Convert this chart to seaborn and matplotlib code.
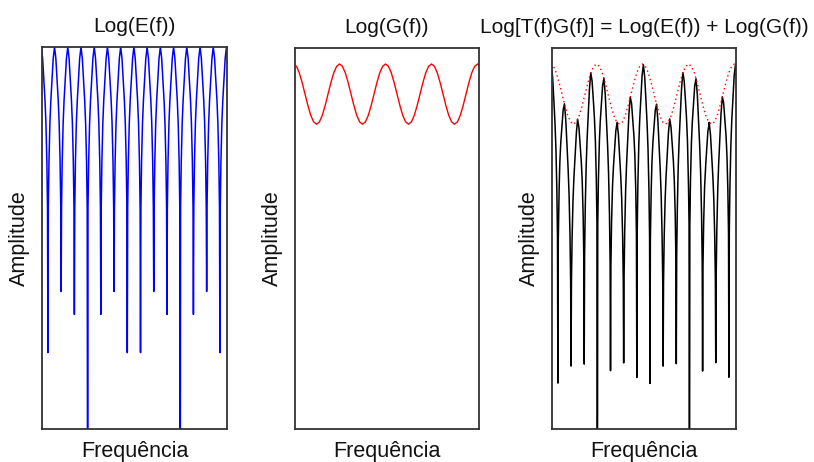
import numpy as np
import pandas as pd
import matplotlib
matplotlib.use("Agg")
import matplotlib.pyplot as plt
import seaborn as sns

# ---------------- data ----------------
# Log(E(f)): positions (normalised frequency) and levels of the 14 dips
dip_freq = [0.032, 0.1035, 0.175, 0.2465, 0.318, 0.3895, 0.461,
            0.5325, 0.604, 0.6755, 0.747, 0.8185, 0.890, 0.9615]
dip_level = [0.20, 0.36, 0.30, -0.40, 0.30, 0.36, 0.20,
             0.20, 0.36, 0.30, -0.40, 0.30, 0.36, 0.20]
lobe_width = 0.0715
# shape of one half-lobe: distance from dip (lobe units) -> level
lobe_offset = [0.03, 0.08, 0.15, 0.22, 0.30, 0.40, 0.50]
lobe_level = [0.58, 0.70, 0.80, 0.86, 0.91, 0.97, 1.00]

# Log(G(f)): peak positions and one period profile
g_peak_freq = [-0.008, 0.242, 0.492, 0.742, 0.992]
g_period = 0.25
g_cycle_offset = [0.0, 0.0625, 0.125, 0.1875, 0.25, 0.3125, 0.375, 0.4375,
                  0.5, 0.5625, 0.625, 0.6875, 0.75, 0.8125, 0.875, 0.9375]
g_cycle_level = [0.958, 0.952, 0.935, 0.909, 0.879, 0.849, 0.823, 0.806,
                 0.800, 0.806, 0.823, 0.849, 0.879, 0.909, 0.935, 0.952]

titles = ["Log(E(f))", "Log(G(f))", "Log[T(f)G(f)] = Log(E(f)) + Log(G(f))"]
xlabel = "Frequência"
ylabel = "Amplitude"

# ---------------- assemble series ----------------
e_f, e_v = [], []
# descending half before first dip
for off, lev in zip(lobe_offset[::-1], lobe_level[::-1]):
    e_f.append(dip_freq[0] - off * lobe_width); e_v.append(lev)
for i, (p, lv) in enumerate(zip(dip_freq, dip_level)):
    e_f.append(p); e_v.append(lv)
    nxt = dip_freq[i + 1] if i + 1 < len(dip_freq) else p + lobe_width
    w = nxt - p
    for off, lev in zip(lobe_offset, lobe_level):
        e_f.append(p + off * w); e_v.append(lev)
    if i + 1 < len(dip_freq):
        for off, lev in zip(lobe_offset[::-1][1:], lobe_level[::-1][1:]):
            e_f.append(nxt - off * w); e_v.append(lev)
    else:
        for off, lev in zip(lobe_offset[::-1][1:3], lobe_level[::-1][1:3]):
            e_f.append(nxt - off * w); e_v.append(lev)
e_f = np.array(e_f); e_v = np.array(e_v)

g_f, g_v = [], []
for pk in g_peak_freq:
    for off, lev in zip(g_cycle_offset, g_cycle_level):
        g_f.append(pk + off * g_period); g_v.append(lev)
g_f.append(g_peak_freq[-1] + g_period); g_v.append(g_cycle_level[0])
g_f = np.array(g_f); g_v = np.array(g_v)

# sum Log(E) + Log(G) on the union of breakpoints
t_f = np.union1d(e_f, g_f)
t_v = np.interp(t_f, e_f, e_v) + np.interp(t_f, g_f, g_v)

df_e = pd.DataFrame({"f": e_f, "v": e_v})
df_g = pd.DataFrame({"f": g_f, "v": g_v})
df_t = pd.DataFrame({"f": t_f, "v": t_v})
df_env = pd.DataFrame({"f": g_f, "v": g_v + 1.0})

# ---------------- drawing ----------------
sns.set_theme(style="white")
plt.rcParams["font.family"] = ["Liberation Sans", "DejaVu Sans"]

W, H = 814, 462
fig = plt.figure(figsize=(W / 100, H / 100), dpi=100)

def make_ax(x0, x1, y0, y1):
    return fig.add_axes([x0 / W, 1 - y1 / H, (x1 - x0) / W, (y1 - y0) / H])

axes = [make_ax(42, 227, 47, 429), make_ax(295, 479, 48, 429), make_ax(552, 736, 48, 429)]

sns.lineplot(data=df_e, x="f", y="v", ax=axes[0], color="#0000ff", lw=1.1,
             sort=False, estimator=None)
sns.lineplot(data=df_g, x="f", y="v", ax=axes[1], color="#ff0000", lw=1.0,
             sort=False, estimator=None)
sns.lineplot(data=df_t, x="f", y="v", ax=axes[2], color="#000000", lw=1.1,
             sort=False, estimator=None)
sns.lineplot(data=df_env, x="f", y="v", ax=axes[2], color="#ff0000", lw=1.0,
             sort=False, estimator=None)
axes[2].lines[-1].set_dashes([1.0, 2.2])

ylims = [(0, 1), (0, 1), (1, 2)]
for ax, title, yl in zip(axes, titles, ylims):
    ax.set_xlim(0, 1)
    ax.set_ylim(*yl)
    ax.set_xticks([]); ax.set_yticks([])
    ax.set_title(title, fontsize=15, color="#111111", pad=11)
    ax.set_xlabel(xlabel, fontsize=15.5, color="#111111", labelpad=9)
    ax.set_ylabel(ylabel, fontsize=15.5, color="#111111", labelpad=9)
    for s in ax.spines.values():
        s.set_visible(True)
        s.set_color("#333333")
        s.set_linewidth(1.3)
    ax.set_facecolor("white")

fig.savefig("out.png", dpi=100, facecolor="white")
